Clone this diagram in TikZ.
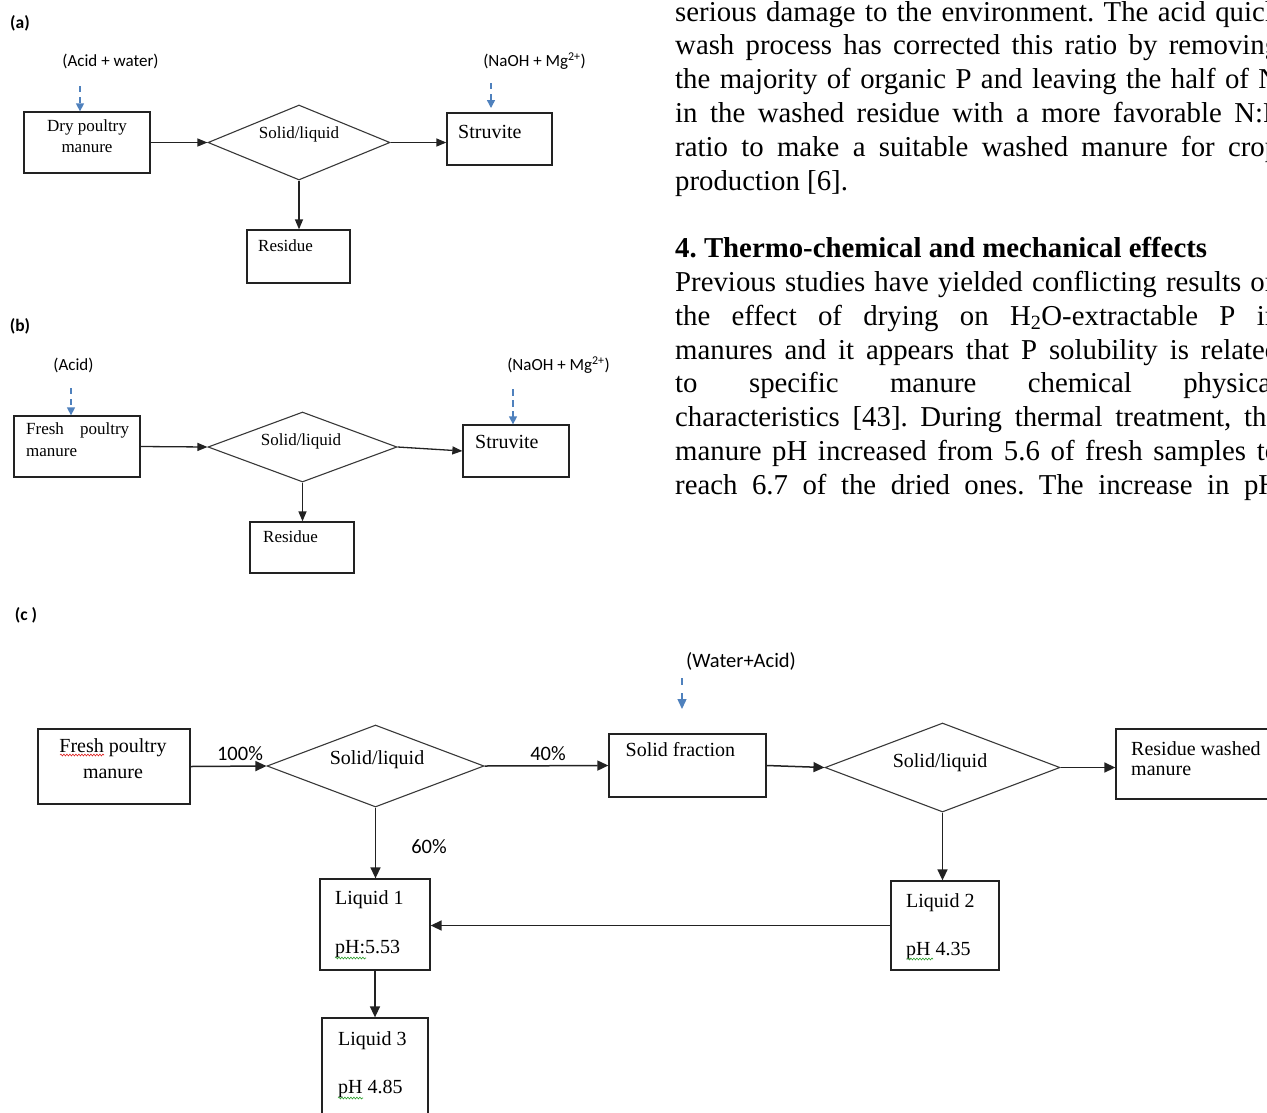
\documentclass[tikz,border=0pt]{standalone}
\usepackage{fontspec}
\setmainfont{Liberation Serif}
\newfontfamily\calib{Carlito}
\usetikzlibrary{arrows.meta,shapes.geometric,decorations.pathmorphing}
\definecolor{arrowblue}{HTML}{4F81BD}
\definecolor{lncol}{HTML}{222222}
\definecolor{spellred}{HTML}{E02020}
\definecolor{spellgreen}{HTML}{30A030}
\frenchspacing
\begin{document}
\begin{tikzpicture}[x=1pt,y=-1pt,
 box/.style={draw=lncol,line width=1.3pt,inner sep=0},
 dia/.style={diamond,draw=lncol!90,line width=1.1pt,inner sep=0},
 arrA/.style={draw=lncol,line width=1.3pt,-{Triangle[length=10pt,width=8pt]}},
 arrC/.style={draw=lncol,line width=1.5pt,-{Triangle[length=11pt,width=10pt]}},
 barr/.style={draw=arrowblue,line width=1.4pt,dash pattern=on 6pt off 5pt,-{Triangle[length=8pt,width=8pt]}},
 tA/.style={inner sep=0,font=\fontsize{17}{20}\selectfont,text height=10.5pt,text depth=1.4pt},
 tS/.style={inner sep=0,font=\fontsize{20}{24}\selectfont,text height=12.4pt,text depth=1.6pt},
 sA/.style={inner sep=0,font=\calib\fontsize{17}{20}\selectfont,text height=10.5pt,text depth=1.4pt},
 sC/.style={inner sep=0,font=\calib\fontsize{20.5}{24}\selectfont,text height=12.7pt,text depth=1.6pt},
 hdr/.style={inner sep=0,font=\calib\bfseries\fontsize{17.5}{20}\selectfont,text height=11pt,text depth=1.5pt},
 para/.style={inner sep=0,anchor=base west,font=\fontsize{28.8}{33.8}\selectfont},
 squig/.style={line width=0.6pt,decorate,decoration={snake,amplitude=0.9pt,segment length=3pt}},
]
\clip (0,0) rectangle (1267,1112);
\fill[white] (0,0) rectangle (1267,1112);

% ---------------- (a) ----------------
\node[hdr] (la) at (20,24) {(a)};
\node[sA] (acidw) at (110.5,62) {(Acid + water)};
\node[sA] (naoha) at (534.5,62) {(NaOH + Mg\textsuperscript{2+})};
\node[box,minimum width=126,minimum height=61] (dry) at (87,142.5) {};
\node[tA] (dryt1) at (87,127) {Dry poultry};
\node[tA] (dryt2) at (87,148) {manure};
\node[dia,minimum width=182,minimum height=75] (da) at (299,142.5) {};
\node[tA] (dat) at (299,134) {Solid/liquid};
\node[box,minimum width=105,minimum height=52] (sta) at (499.5,139) {};
\node[tS,anchor=west] (stat) at (458,133) {Struvite};
\node[box,minimum width=103,minimum height=53] (resa) at (298.5,256.5) {};
\node[tA,anchor=west] (resat) at (258,247) {Residue};
\coordinate (ba1) at (80,86);
\coordinate (ba2) at (491,83);
\coordinate (ba2e) at (491,108);
\draw[barr] (ba1) -- (dry.north -| ba1);
\draw[barr] (ba2) -- (ba2e);
\draw[arrA] (dry.east) -- (da.west);
\draw[arrA] (da.east) -- (da.east -| sta.west);
\draw[arrA] (da.south) -- (da.south |- resa.north);

% ---------------- (b) ----------------
\node[hdr] (lb) at (20,327) {(b)};
\node[sA] (acidb) at (73.5,366) {(Acid)};
\node[sA] (naohb) at (558.5,366) {(NaOH + Mg\textsuperscript{2+})};
\node[box,minimum width=126,minimum height=61] (fb) at (77,446.5) {};
\node[tA,anchor=west] (fbt1) at (26,430) {\makebox[103pt][s]{Fresh poultry}};
\node[tA,anchor=west] (fbt2) at (26,452) {manure};
\node[dia,minimum width=189,minimum height=70] (db) at (302.5,447) {};
\node[tA] (dbt) at (301,441) {Solid/liquid};
\node[box,minimum width=106,minimum height=52] (stb) at (516,451) {};
\node[tS,anchor=west] (stbt) at (475,443) {Struvite};
\node[box,minimum width=104,minimum height=51] (resb) at (302,547.5) {};
\node[tA,anchor=west] (resbt) at (263,538) {Residue};
\coordinate (bb1) at (71,388);
\coordinate (bb2) at (513,389);
\draw[barr] (bb1) -- (fb.north -| bb1);
\draw[barr,dash pattern=on 7pt off 4pt] (bb2) -- (stb.north -| bb2);
\draw[arrA] (fb.east) -- (db.west);
\draw[arrA] (db.east) -- (stb.west);
\draw[arrA] (db.south) -- (db.south |- resb.north);

% ---------------- (c) ----------------
\node[hdr] (lc) at (26,616) {(c )};
\node[box,minimum width=152,minimum height=75] (fc) at (114,766.5) {};
\node[tS] (fct1) at (113,747) {Fresh poultry};
\node[tS] (fct2) at (113,773) {manure};
\node[dia,minimum width=217,minimum height=82] (d1) at (375.5,766) {};
\node[tS] (d1t) at (377,759) {Solid/liquid};
\node[sC] (p100) at (240,755) {100\%};
\node[sC] (p40) at (548,755) {40\%};
\node[sC] (p60) at (429,848) {60\%};
\node[box,minimum width=157,minimum height=63] (sf) at (687.5,765.5) {};
\node[tS,anchor=west] (sft) at (625.5,751) {Solid fraction};
\node[sC] (wa) at (741,662) {(Water+Acid)};
\node[dia,minimum width=235,minimum height=89] (d2) at (942.5,767.5) {};
\node[tS] (d2t) at (940,762) {Solid/liquid};
\node[box,minimum width=200,minimum height=70] (rw) at (1216,764) {};
\node[tS,anchor=west] (rwt1) at (1131,750) {Residue washed};
\node[tS,anchor=west] (rwt2) at (1131,770) {manure};
\node[box,minimum width=110,minimum height=91] (l1) at (375,924.5) {};
\node[tS,anchor=west] (l1t1) at (335,899) {Liquid 1};
\node[tS,anchor=west] (l1t2) at (335,948) {pH:5.53};
\node[box,minimum width=108,minimum height=89] (l2) at (945,925.5) {};
\node[tS,anchor=west] (l2t1) at (906,902) {Liquid 2};
\node[tS,anchor=west] (l2t2) at (906,950) {pH 4.35};
\node[box,minimum width=106,minimum height=120] (l3) at (375,1078) {};
\node[tS,anchor=west] (l3t1) at (338,1040) {Liquid 3};
\node[tS,anchor=west] (l3t2) at (338,1088) {pH 4.85};
\coordinate (bc1) at (682,678);
\coordinate (bc1e) at (682,709);
\draw[barr,dash pattern=on 7pt off 8pt,-{Triangle[length=10pt,width=9pt]}] (bc1) -- (bc1e);
\draw[arrC] (fc.east) -- (d1.west);
\draw[arrC] (d1.east) -- (sf.west);
\draw[arrC] (d1.south) -- (d1.south |- l1.north);
\draw[arrC] (sf.east) -- (d2.west);
\draw[arrC] (d2.east) -- (d2.east -| rw.west);
\draw[arrC] (d2.south) -- (d2.south |- l2.north);
\draw[arrC] (l2.west) -- (l2.west -| l1.east);
\draw[arrC] (l1.south) -- (l1.south |- l3.north);
% spell-check squiggles
\draw[squig,spellred] (60,755) -- (104,755);
\draw[squig,spellgreen] (335,958) -- (366,958);
\draw[squig,spellgreen] (907,959) -- (933,959);
\draw[squig,spellgreen] (338,1098) -- (363,1098);

% ---------------- text column ----------------
\node[para] (q0) at (675,21) {\makebox[604pt][s]{serious damage to the environment. The acid quick}};
\node[para] (q1) at (675,54.8) {\makebox[604pt][s]{wash process has corrected this ratio by removing}};
\node[para] (q2) at (675,88.6) {\makebox[604pt][s]{the majority of organic P and leaving the half of N}};
\node[para] (q3) at (675,122.4) {\makebox[604pt][s]{in the washed residue with a more favorable N:P}};
\node[para] (q4) at (675,156.2) {\makebox[604pt][s]{ratio to make a suitable washed manure for crop}};
\node[para] (q5) at (675,190) {production [6].};
\node[para] (q7) at (675,257.6) {\textbf{4. Thermo-chemical and mechanical effects}};
\node[para] (q8) at (675,291.4) {\makebox[604pt][s]{Previous studies have yielded conflicting results on}};
\node[para] (q9) at (675,325.2) {\makebox[604pt][s]{the effect of drying on H\textsubscript{2}O-extractable P in}};
\node[para] (q10) at (675,359) {\makebox[604pt][s]{manures and it appears that P solubility is related}};
\node[para] (q11) at (675,392.8) {\makebox[604pt][s]{to specific manure chemical physical}};
\node[para] (q12) at (675,426.6) {\makebox[604pt][s]{characteristics [43]. During thermal treatment, the}};
\node[para] (q13) at (675,460.4) {\makebox[604pt][s]{manure pH increased from 5.6 of fresh samples to}};
\node[para] (q14) at (675,494.2) {\makebox[604pt][s]{reach 6.7 of the dried ones. The increase in pH}};
\end{tikzpicture}
\end{document}
